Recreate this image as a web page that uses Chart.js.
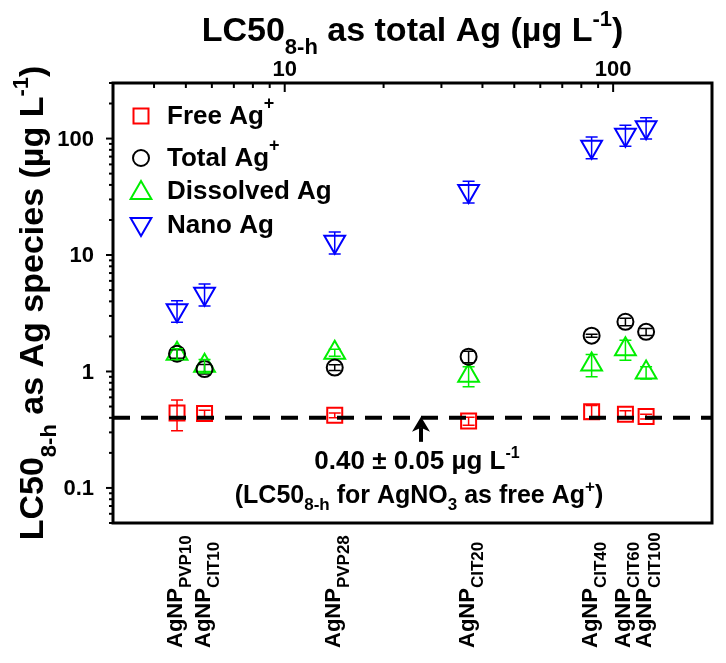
<!DOCTYPE html>
<html>
<head>
<meta charset="utf-8">
<script src="https://cdn.jsdelivr.net/npm/chart.js@4.4.0/dist/chart.umd.min.js"></script>
<style>
  html, body { margin: 0; padding: 0; background: #fff; }
  #wrap { width: 726px; height: 663px; }
</style>
</head>
<body>
<div id="wrap"><canvas id="chart"></canvas></div>
<script>
// sample names (subscript part of AgNP_xxx)
const samples = ['PVP10', 'CIT10', 'PVP28', 'CIT20', 'CIT40', 'CIT60', 'CIT100'];
// LC50 8-h as total Ag (top axis), ug/L
const totalAgX = [4.7, 5.7, 14.2, 36.3, 86, 109, 126];
// LC50 8-h as each Ag species, ug/L
const freeAg       = [0.44, 0.435, 0.42, 0.375, 0.45, 0.43, 0.41];
const freeErr      = [0.13, 0.03, 0.02, 0.03, 0.06, 0.03, 0.02];
const totalAg      = [1.42, 1.05, 1.08, 1.34, 2.03, 2.67, 2.19];
const totalErr     = [0.12, 0.1, 0.06, 0.15, 0.06, 0.2, 0.15];
const dissolvedAg  = [1.42, 1.12, 1.45, 0.92, 1.15, 1.55, 0.98];
const dissolvedErr = [0.15, 0.15, 0.1, 0.18, 0.25, 0.3, 0.12];
const nanoAg       = [3.35, 4.65, 13, 35.5, 85, 108, 125];
const nanoErr      = [0.7, 1.0, 2.8, 7.5, 18, 22, 26];
// AgNO3 reference line (free Ag+)
const agno3Line = 0.40;
const arrowX = 26;
// ticks
const yTickLabels = [0.1, 1, 10, 100];
const xTickLabels = [10, 100];

const FONT = '"Liberation Sans", Arial, sans-serif';

function pts(ys) {
  return ys.map((v, i) => ({ x: totalAgX[i], y: v }));
}

const series = [
  { label: 'Free Ag', sup: '+', data: freeAg, err: freeErr, color: '#ff0000', style: 'rect', r: 10.6, rot: 0 },
  { label: 'Total Ag', sup: '+', data: totalAg, err: totalErr, color: '#000000', style: 'circle', r: 8, rot: 0 },
  { label: 'Dissolved Ag', sup: '', data: dissolvedAg, err: dissolvedErr, color: '#00ee00', style: 'triangle', r: 12, rot: 0 },
  { label: 'Nano Ag', sup: '', data: nanoAg, err: nanoErr, color: '#0000ff', style: 'triangle', r: 12, rot: 180 }
];

function richWidth(ctx, parts) {
  let w = 0;
  parts.forEach(p => { ctx.font = `bold ${p.s}px ${FONT}`; w += ctx.measureText(p.t).width; });
  return w;
}
function drawRich(ctx, parts, x, y) {
  ctx.textAlign = 'left';
  ctx.textBaseline = 'alphabetic';
  parts.forEach(p => {
    ctx.font = `bold ${p.s}px ${FONT}`;
    ctx.fillText(p.t, x, y + (p.dy || 0));
    x += ctx.measureText(p.t).width;
  });
}

function drawMarker(ctx, s, x, y) {
  ctx.save();
  ctx.strokeStyle = s.color;
  ctx.lineWidth = 2;
  ctx.beginPath();
  if (s.style === 'rect') {
    const h = s.r * Math.SQRT1_2;
    ctx.rect(x - h, y - h, 2 * h, 2 * h);
  } else if (s.style === 'circle') {
    ctx.arc(x, y, s.r, 0, Math.PI * 2);
  } else {
    let a = s.rot * Math.PI / 180;
    for (let k = 0; k < 3; k++) {
      const px = x + Math.sin(a) * s.r, py = y - Math.cos(a) * s.r;
      if (k === 0) ctx.moveTo(px, py); else ctx.lineTo(px, py);
      a += 2 * Math.PI / 3;
    }
    ctx.closePath();
  }
  ctx.stroke();
  ctx.restore();
}

const decor = {
  id: 'decor',
  afterDatasetsDraw(chart) {
    const { ctx, chartArea: a, scales: { x, y } } = chart;
    ctx.save();
    // error bars
    series.forEach(s => {
      ctx.strokeStyle = s.color;
      ctx.lineWidth = 1.5;
      s.data.forEach((v, i) => {
        const px = x.getPixelForValue(totalAgX[i]);
        const y1 = y.getPixelForValue(v + s.err[i]);
        const y2 = y.getPixelForValue(Math.max(v - s.err[i], 0.001));
        ctx.beginPath();
        ctx.moveTo(px, y1); ctx.lineTo(px, y2);
        ctx.moveTo(px - 6, y1); ctx.lineTo(px + 6, y1);
        ctx.moveTo(px - 6, y2); ctx.lineTo(px + 6, y2);
        ctx.stroke();
      });
    });
    // AgNO3 dashed line
    const ly = y.getPixelForValue(agno3Line);
    ctx.strokeStyle = '#000';
    ctx.lineWidth = 4;
    ctx.setLineDash([17, 11]);
    ctx.beginPath();
    ctx.moveTo(a.left, ly); ctx.lineTo(a.right, ly);
    ctx.stroke();
    ctx.setLineDash([]);
    // arrow
    const ax = x.getPixelForValue(arrowX);
    ctx.fillStyle = '#000';
    ctx.fillRect(ax - 2, ly + 10, 4, 14);
    ctx.beginPath();
    ctx.moveTo(ax, ly - 1);
    ctx.lineTo(ax + 9, ly + 14);
    ctx.lineTo(ax, ly + 10);
    ctx.lineTo(ax - 9, ly + 14);
    ctx.closePath();
    ctx.fill();
    // annotation text
    const l1 = [{ t: '0.40 \u00b1 0.05 \u00b5g L', s: 26 }, { t: '-1', s: 16, dy: -11 }];
    drawRich(ctx, l1, ax - 4 - richWidth(ctx, l1) / 2, ly + 51);
    const l2 = [{ t: '(LC50', s: 25 }, { t: '8-h', s: 17, dy: 7 }, { t: ' for AgNO', s: 25 },
      { t: '3', s: 17, dy: 7 }, { t: ' as free Ag', s: 25 }, { t: '+', s: 17, dy: -11 }, { t: ')', s: 25 }];
    drawRich(ctx, l2, ax - 2 - richWidth(ctx, l2) / 2, ly + 85);
    ctx.restore();
  },
  afterDraw(chart) {
    const { ctx, chartArea: a, scales: { x, y } } = chart;
    ctx.save();
    ctx.strokeStyle = '#000';
    ctx.fillStyle = '#000';
    // frame
    ctx.lineWidth = 3;
    ctx.strokeRect(a.left, a.top, a.right - a.left, a.bottom - a.top);

    // y ticks (outside, left)
    ctx.lineWidth = 2;
    for (let e = -2; e <= 2; e++) {
      for (let m = 1; m <= 9; m++) {
        const v = m * Math.pow(10, e);
        if (v < y.min || v > y.max) continue;
        const py = y.getPixelForValue(v);
        const len = m === 1 ? 7 : 4;
        ctx.beginPath(); ctx.moveTo(a.left, py); ctx.lineTo(a.left - len, py); ctx.stroke();
      }
    }
    ctx.font = `bold 22px ${FONT}`;
    ctx.textAlign = 'right';
    ctx.textBaseline = 'middle';
    yTickLabels.forEach(v => ctx.fillText(String(v), a.left - 19, y.getPixelForValue(v) + 1));

    // top x ticks (inside)
    for (let e = 0; e <= 2; e++) {
      for (let m = 1; m <= 9; m++) {
        const v = m * Math.pow(10, e);
        if (v <= x.min || v >= x.max) continue;
        const px = x.getPixelForValue(v);
        const len = m === 1 ? 9 : 5;
        ctx.beginPath(); ctx.moveTo(px, a.top); ctx.lineTo(px, a.top + len); ctx.stroke();
      }
    }
    ctx.textAlign = 'center';
    ctx.textBaseline = 'alphabetic';
    xTickLabels.forEach(v => ctx.fillText(String(v), x.getPixelForValue(v), a.top - 7));

    // top title
    const tt = [{ t: 'LC50', s: 34 }, { t: '8-h', s: 22, dy: 13 }, { t: ' as total Ag (\u00b5g L', s: 34 },
      { t: '-1', s: 22, dy: -15 }, { t: ')', s: 34 }];
    drawRich(ctx, tt, (a.left + a.right) / 2 - richWidth(ctx, tt) / 2, 41);

    // y title
    const yt = [{ t: 'LC50', s: 34 }, { t: '8-h', s: 22, dy: 13 }, { t: ' as Ag species (\u00b5g L', s: 34 },
      { t: '-1', s: 22, dy: -15 }, { t: ')', s: 34 }];
    ctx.save();
    ctx.translate(43, (a.top + a.bottom) / 2);
    ctx.rotate(-Math.PI / 2);
    drawRich(ctx, yt, -richWidth(ctx, yt) / 2, 0);
    ctx.restore();

    // bottom sample labels
    samples.forEach((name, i) => {
      const px = x.getPixelForValue(totalAgX[i]);
      ctx.save();
      ctx.translate(px + 5, a.bottom + 125);
      ctx.rotate(-Math.PI / 2);
      drawRich(ctx, [{ t: 'AgNP', s: 22 }, { t: name, s: 17, dy: 9 }], 0, 0);
      ctx.restore();
    });

    // legend
    const rowsY = [124, 166, 199, 233];
    series.forEach((s, i) => {
      const cy = rowsY[i] - 8 + (s.style === 'triangle' ? (s.rot ? -1 : 2) : 0);
      drawMarker(ctx, s, a.left + 28, cy);
      ctx.fillStyle = '#000';
      const parts = [{ t: s.label, s: 26 }];
      if (s.sup) parts.push({ t: s.sup, s: 18, dy: -15 });
      drawRich(ctx, parts, a.left + 54, rowsY[i]);
    });
    ctx.restore();
  }
};

new Chart(document.getElementById('chart'), {
  type: 'scatter',
  data: {
    datasets: series.map(s => ({
      label: s.label,
      data: pts(s.data),
      pointStyle: s.style,
      pointRotation: s.rot,
      pointRadius: s.r,
      pointBorderWidth: 2,
      pointBorderColor: s.color,
      pointBackgroundColor: 'rgba(0,0,0,0)',
      showLine: false
    }))
  },
  options: {
    responsive: true,
    maintainAspectRatio: false,
    animation: false,
    layout: { padding: { left: 113, top: 83, right: 9, bottom: 140 } },
    scales: {
      x: { type: 'logarithmic', min: 3, max: 200, display: false },
      y: { type: 'logarithmic', min: 0.05, max: 300, display: false }
    },
    plugins: { legend: { display: false }, tooltip: { enabled: false } }
  },
  plugins: [decor]
});
</script>
</body>
</html>
